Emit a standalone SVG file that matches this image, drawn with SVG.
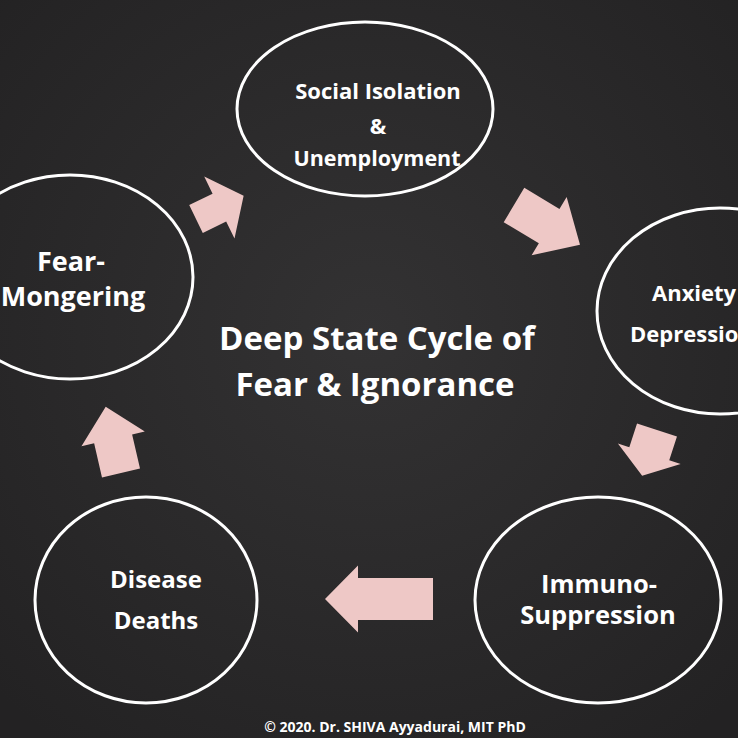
<svg xmlns="http://www.w3.org/2000/svg" width="738" height="738" viewBox="0 0 738 738">
<defs>
<radialGradient id="bg" cx="50%" cy="45%" r="70%">
<stop offset="0" stop-color="#333233"/>
<stop offset="1" stop-color="#232223"/>
</radialGradient>
<style>
.node{fill:none;stroke:#ffffff;stroke-width:3}
.t{font-family:"Open Sans","Liberation Sans",sans-serif;font-weight:bold;fill:#ffffff;text-anchor:middle}
.arr{fill:#eec8c6}
</style>
</defs>
<rect width="738" height="738" fill="url(#bg)"/>
<g id="connectors">
<polygon class="arr" transform="translate(196,219) rotate(-26)" points="0,-15.5 26,-15.5 26,-34.5 53,0 26,34.5 26,15.5 0,15.5"/>
<polygon class="arr" transform="translate(514,205) rotate(31)" points="0,-20 41,-20 41,-34 77,0 41,34 41,20 0,20"/>
<polygon class="arr" transform="translate(657,430) rotate(108)" points="0,-21 25,-21 25,-33 48,0 25,33 25,21 0,21"/>
<polygon class="arr" transform="translate(433,599) rotate(180)" points="0,-21 75,-21 75,-33.5 108,0 75,33.5 75,21 0,21"/>
<polygon class="arr" transform="translate(121,473) rotate(-103)" points="0,-19.5 35,-19.5 35,-32.5 68,0 35,32.5 35,19.5 0,19.5"/>
</g>
<g id="social">
<ellipse class="node" cx="365" cy="109" rx="128" ry="87"/>
<text class="t" x="378" y="99" font-size="22">Social Isolation</text>
<text class="t" x="378" y="134" font-size="22">&amp;</text>
<text class="t" x="377" y="166" font-size="21.5">Unemployment</text>
</g>
<g id="anxiety">
<ellipse class="node" cx="720" cy="311" rx="123" ry="103"/>
<text class="t" x="652" y="301" font-size="22" style="text-anchor:start">Anxiety</text>
<text class="t" x="630" y="342" font-size="22" style="text-anchor:start">Depression</text>
</g>
<g id="immuno">
<ellipse class="node" cx="598" cy="600" rx="123" ry="103"/>
<text class="t" x="599" y="593" font-size="25.5">Immuno-</text>
<text class="t" x="598" y="624" font-size="25.5">Suppression</text>
</g>
<g id="disease">
<ellipse class="node" cx="146" cy="600" rx="111" ry="103"/>
<text class="t" x="156" y="588" font-size="24">Disease</text>
<text class="t" x="156" y="629" font-size="24">Deaths</text>
</g>
<g id="fear">
<ellipse class="node" cx="70" cy="277" rx="123" ry="102"/>
<text class="t" x="71" y="271" font-size="27">Fear-</text>
<text class="t" x="73" y="306" font-size="27">Mongering</text>
</g>
<g id="title">
<text class="t" x="377" y="350" font-size="33">Deep State Cycle of</text>
<text class="t" x="375" y="396" font-size="33">Fear &amp; Ignorance</text>
</g>
<text class="t" x="395" y="732" font-size="14" font-weight="600" fill="#dddddd">© 2020. Dr. SHIVA Ayyadurai, MIT PhD</text>
</svg>
